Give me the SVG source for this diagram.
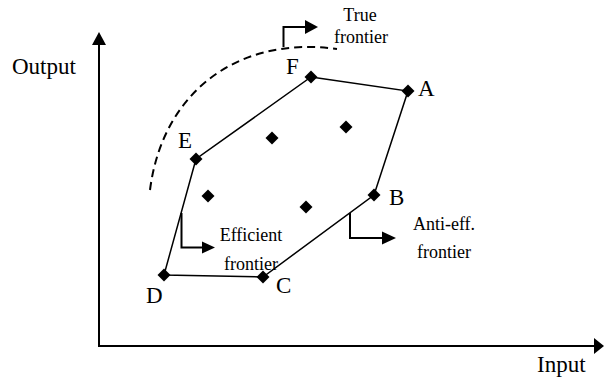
<svg xmlns="http://www.w3.org/2000/svg" width="604" height="380" viewBox="0 0 604 380">
<style>
text{font-family:"Liberation Serif","Times New Roman",serif;fill:#000}
.big{font-size:23px}
.small{font-size:18px}
.axis{stroke:#000;stroke-width:2;fill:none}
.edge{stroke:#000;stroke-width:1.5;fill:none}
.ptr{stroke:#000;stroke-width:2;fill:none}
.dash{stroke:#000;stroke-width:2;fill:none;stroke-dasharray:8,5}
.pt{fill:#000}
</style>
<defs>
<rect id="dm" x="-4.6" y="-4.6" width="9.2" height="9.2" transform="rotate(45)"/>
</defs>
<g id="connectors">
<line class="axis" x1="99" y1="346" x2="99" y2="44"/>
<polygon points="99,32 92,45 106,45"/>
<line class="axis" x1="98" y1="346" x2="594" y2="346"/>
<polygon points="604,346 594,338 594,354"/>
<polygon class="edge" points="311,77 408,91 374,195 263,277 164,275 196,159"/>
<path class="dash" d="M150,190 C162,95 235,35 337,49"/>
<polyline class="ptr" points="283.5,47 283.5,27 306,27"/>
<polygon points="318,27 305,20 305,34"/>
<polyline class="ptr" points="181.5,213 181.5,247.5 202,247.5"/>
<polygon points="215,247.5 202,241.5 202,253.5"/>
<polyline class="ptr" points="350,213 350,238 383,238"/>
<polygon points="396,238 382,231.5 382,244.5"/>
</g>
<g id="node-F"><use href="#dm" class="pt" x="311" y="77"/><text class="big" x="286" y="74">F</text></g>
<g id="node-A"><use href="#dm" class="pt" x="408" y="91"/><text class="big" x="418" y="96">A</text></g>
<g id="node-B"><use href="#dm" class="pt" x="374" y="195"/><text class="big" x="389" y="205">B</text></g>
<g id="node-C"><use href="#dm" class="pt" x="263" y="277"/><text class="big" x="276" y="293">C</text></g>
<g id="node-D"><use href="#dm" class="pt" x="164" y="275"/><text class="big" x="146" y="303">D</text></g>
<g id="node-E"><use href="#dm" class="pt" x="196" y="159"/><text class="big" x="178" y="148">E</text></g>
<g id="node-p1"><use href="#dm" class="pt" x="272" y="138"/></g>
<g id="node-p2"><use href="#dm" class="pt" x="346" y="127"/></g>
<g id="node-p3"><use href="#dm" class="pt" x="208" y="196"/></g>
<g id="node-p4"><use href="#dm" class="pt" x="306" y="207"/></g>
<g id="labels">
<text class="big" x="12" y="74">Output</text>
<text class="big" x="537" y="372">Input</text>
<text class="small" x="360" y="21" text-anchor="middle">True</text>
<text class="small" x="361" y="43" text-anchor="middle">frontier</text>
<text class="small" x="251" y="241" text-anchor="middle">Efficient</text>
<text class="small" x="251" y="270" text-anchor="middle">frontier</text>
<text class="small" x="444" y="230" text-anchor="middle">Anti-eff.</text>
<text class="small" x="444" y="258" text-anchor="middle">frontier</text>
</g>
</svg>
